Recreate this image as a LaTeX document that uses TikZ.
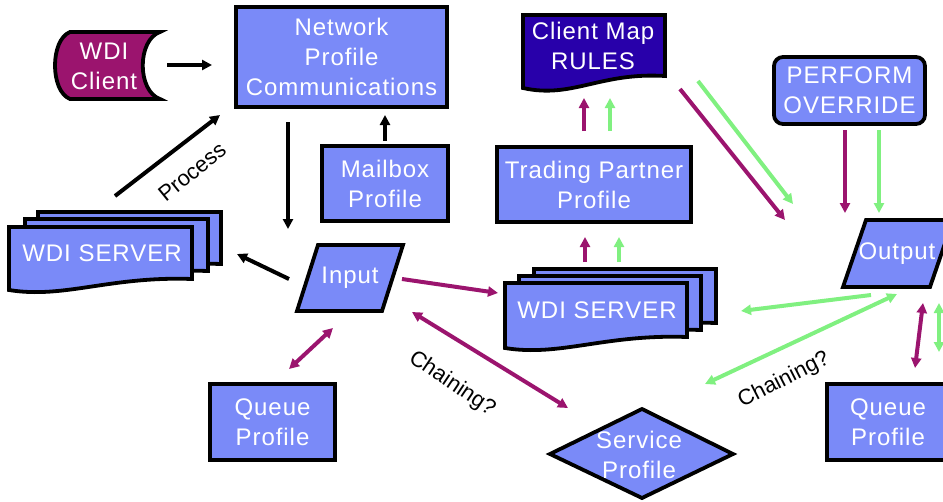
\documentclass[tikz,border=0pt]{standalone}
\usepackage{fontspec}
\setmainfont{Liberation Sans}
\newfontfamily\labfam[LetterSpace=4]{Liberation Sans}
\newfontfamily\plainfam{Liberation Sans}
\usetikzlibrary{arrows.meta}
\definecolor{peri}{RGB}{122,138,248}
\definecolor{plum}{RGB}{155,20,110}
\definecolor{lgreen}{RGB}{128,240,128}
\definecolor{dblue}{RGB}{40,0,170}
\newcommand\boxfont{\labfam\fontsize{24}{30}\selectfont}
\newcommand\lblfont{\plainfam\fontsize{22}{26}\selectfont}
\tikzset{
  shapeline/.style={draw=black, line width=3.8pt, fill=peri, line join=miter},
  box/.style={shapeline, text=white, font=\boxfont, align=center, inner sep=0pt},
  txt/.style={text=white, font=\boxfont, align=center, inner sep=0pt},
  lbl/.style={text=black, font=\lblfont, inner sep=0pt},
  tip/.tip={Triangle[length=10pt,width=10pt]},
  arr/.style={line width=4pt, -tip},
  darr/.style={line width=4pt, tip-tip},
  blk/.style={arr, draw=black},
  pur/.style={draw=plum},
  grn/.style={draw=lgreen},
}
\newcommand\docpage[4]{%
  \draw[shapeline] (#1,#2) -- ({#1+#3},#2) -- ({#1+#3},{#2+#4-11})
    .. controls ({#1+0.55*#3},{#2+#4-14}) and ({#1+0.3*#3},{#2+#4+9}) .. (#1,{#2+#4}) -- cycle;}
\begin{document}
\begin{tikzpicture}[x=1pt,y=-1pt]
\useasboundingbox (0,0) rectangle (943,501);

% WDI Client (stored data shape)
\draw[draw=black, line width=3.8pt, fill=plum]
  (70,32) -- (160,32) .. controls (137,40) and (137,91) .. (160,99)
  -- (70,99) .. controls (50,91) and (50,40) .. (70,32) -- cycle;
\node[txt] (client) at (104,66) {WDI\\Client};

% Network Profile Communications
\node[box, minimum width=211pt, minimum height=100pt] (net) at (341.5,57) {Network\\Profile\\Communications};
% Mailbox Profile
\node[box, minimum width=126pt, minimum height=75pt] (mail) at (385,183.5) {Mailbox\\Profile};
% Trading Partner Profile
\node[box, minimum width=194pt, minimum height=75pt] (trade) at (594,184.5) {Trading Partner\\Profile};
% Queue Profiles
\node[box, minimum width=125pt, minimum height=76pt] (queueL) at (272.5,422) {Queue\\Profile};
\node[box, minimum width=122pt, minimum height=76pt] (queueR) at (888,422) {Queue\\Profile};
% PERFORM OVERRIDE
\node[box, rounded corners=9pt, minimum width=151pt, minimum height=67pt] (perf) at (849.5,90.5) {PERFORM\\OVERRIDE};

% Client Map RULES (document)
\draw[draw=black, line width=3.8pt, fill=dblue]
  (523,15) -- (665,15) -- (665,76) .. controls (600,72) and (572,99) .. (523,88) -- cycle;
\node[txt] (rules) at (593,46) {Client Map\\RULES};

% Input / Output (parallelograms)
\draw[shapeline] (318,245) -- (403,245) -- (382,311) -- (297,311) -- cycle;
\node[txt] (input) at (350,278) {Input};
\draw[shapeline] (866,220) -- (953,220) -- (930,287) -- (843,287) -- cycle;
\node[txt] (output) at (897,254) {Output};

% Service Profile (diamond)
\draw[shapeline] (550,454) -- (642,409) -- (733,454) -- (642,498) -- cycle;
\node[txt] (service) at (639,455) {Service\\Profile};

% WDI SERVER stacks
\docpage{38}{212}{183}{63}
\docpage{25}{219}{183}{63}
\docpage{9}{227}{183}{63}
\node[txt] (serverL) at (102,253) {WDI SERVER};
\docpage{534}{269}{182}{65}
\docpage{519}{276}{182}{65}
\docpage{505}{283}{182}{65}
\node[txt] (serverM) at (597,310) {WDI SERVER};

% connector end points
\coordinate (a1s) at (167,65);  \coordinate (a1e) at (212,65);
\coordinate (a2s) at (115,196); \coordinate (a2e) at (220,115);
\coordinate (a3s) at (288,122); \coordinate (a3e) at (288,229);
\coordinate (a4s) at (385,141); \coordinate (a4e) at (385,115);
\coordinate (a5s) at (289,279); \coordinate (a5e) at (237,254);
\coordinate (p1s) at (402,279); \coordinate (p1e) at (498,293);
\coordinate (p2s) at (289,369); \coordinate (p2e) at (333,328);
\coordinate (p3s) at (412,312); \coordinate (p3e) at (568,408);
\coordinate (p4s) at (585,262); \coordinate (p4e) at (585,237);
\coordinate (p5s) at (584,131); \coordinate (p5e) at (584,98);
\coordinate (p6s) at (680,89);  \coordinate (p6e) at (785,220);
\coordinate (p7s) at (845,130); \coordinate (p7e) at (845,213);
\coordinate (p8s) at (923,303); \coordinate (p8e) at (915,368);
\coordinate (g1s) at (619,262); \coordinate (g1e) at (619,237);
\coordinate (g2s) at (610,131); \coordinate (g2e) at (610,98);
\coordinate (g3s) at (698,81);  \coordinate (g3e) at (793,204);
\coordinate (g4s) at (879,130); \coordinate (g4e) at (879,213);
\coordinate (g5s) at (871,295); \coordinate (g5e) at (741,311);
\coordinate (g6s) at (897,294); \coordinate (g6e) at (705,384);
\coordinate (g7s) at (939,303); \coordinate (g7e) at (939,352);

% black connectors
\draw[blk] (a1s) -- (a1e);
\draw[blk] (a2s) -- (a2e);
\draw[blk] (a3s) -- (a3e);
\draw[blk] (a4s) -- (a4e);
\draw[blk] (a5s) -- (a5e);
% purple connectors
\draw[arr, pur] (p1s) -- (p1e);
\draw[darr, pur] (p2s) -- (p2e);
\draw[darr, pur] (p3s) -- (p3e);
\draw[arr, pur] (p4s) -- (p4e);
\draw[arr, pur] (p5s) -- (p5e);
\draw[arr, pur] (p6s) -- (p6e);
\draw[arr, pur] (p7s) -- (p7e);
\draw[darr, pur] (p8s) -- (p8e);
% green connectors
\draw[arr, grn] (g1s) -- (g1e);
\draw[arr, grn] (g2s) -- (g2e);
\draw[arr, grn] (g3s) -- (g3e);
\draw[arr, grn] (g4s) -- (g4e);
\draw[arr, grn] (g5s) -- (g5e);
\draw[darr, grn] (g6s) -- (g6e);
\draw[darr, grn] (g7s) -- (g7e);

% labels
\node[lbl, rotate=39] (proc) at (192,172) {Process};
\node[lbl, rotate=-34] (chainL) at (452,384) {Chaining?};
\node[lbl, rotate=27] (chainR) at (784,380) {Chaining?};
\end{tikzpicture}
\end{document}
